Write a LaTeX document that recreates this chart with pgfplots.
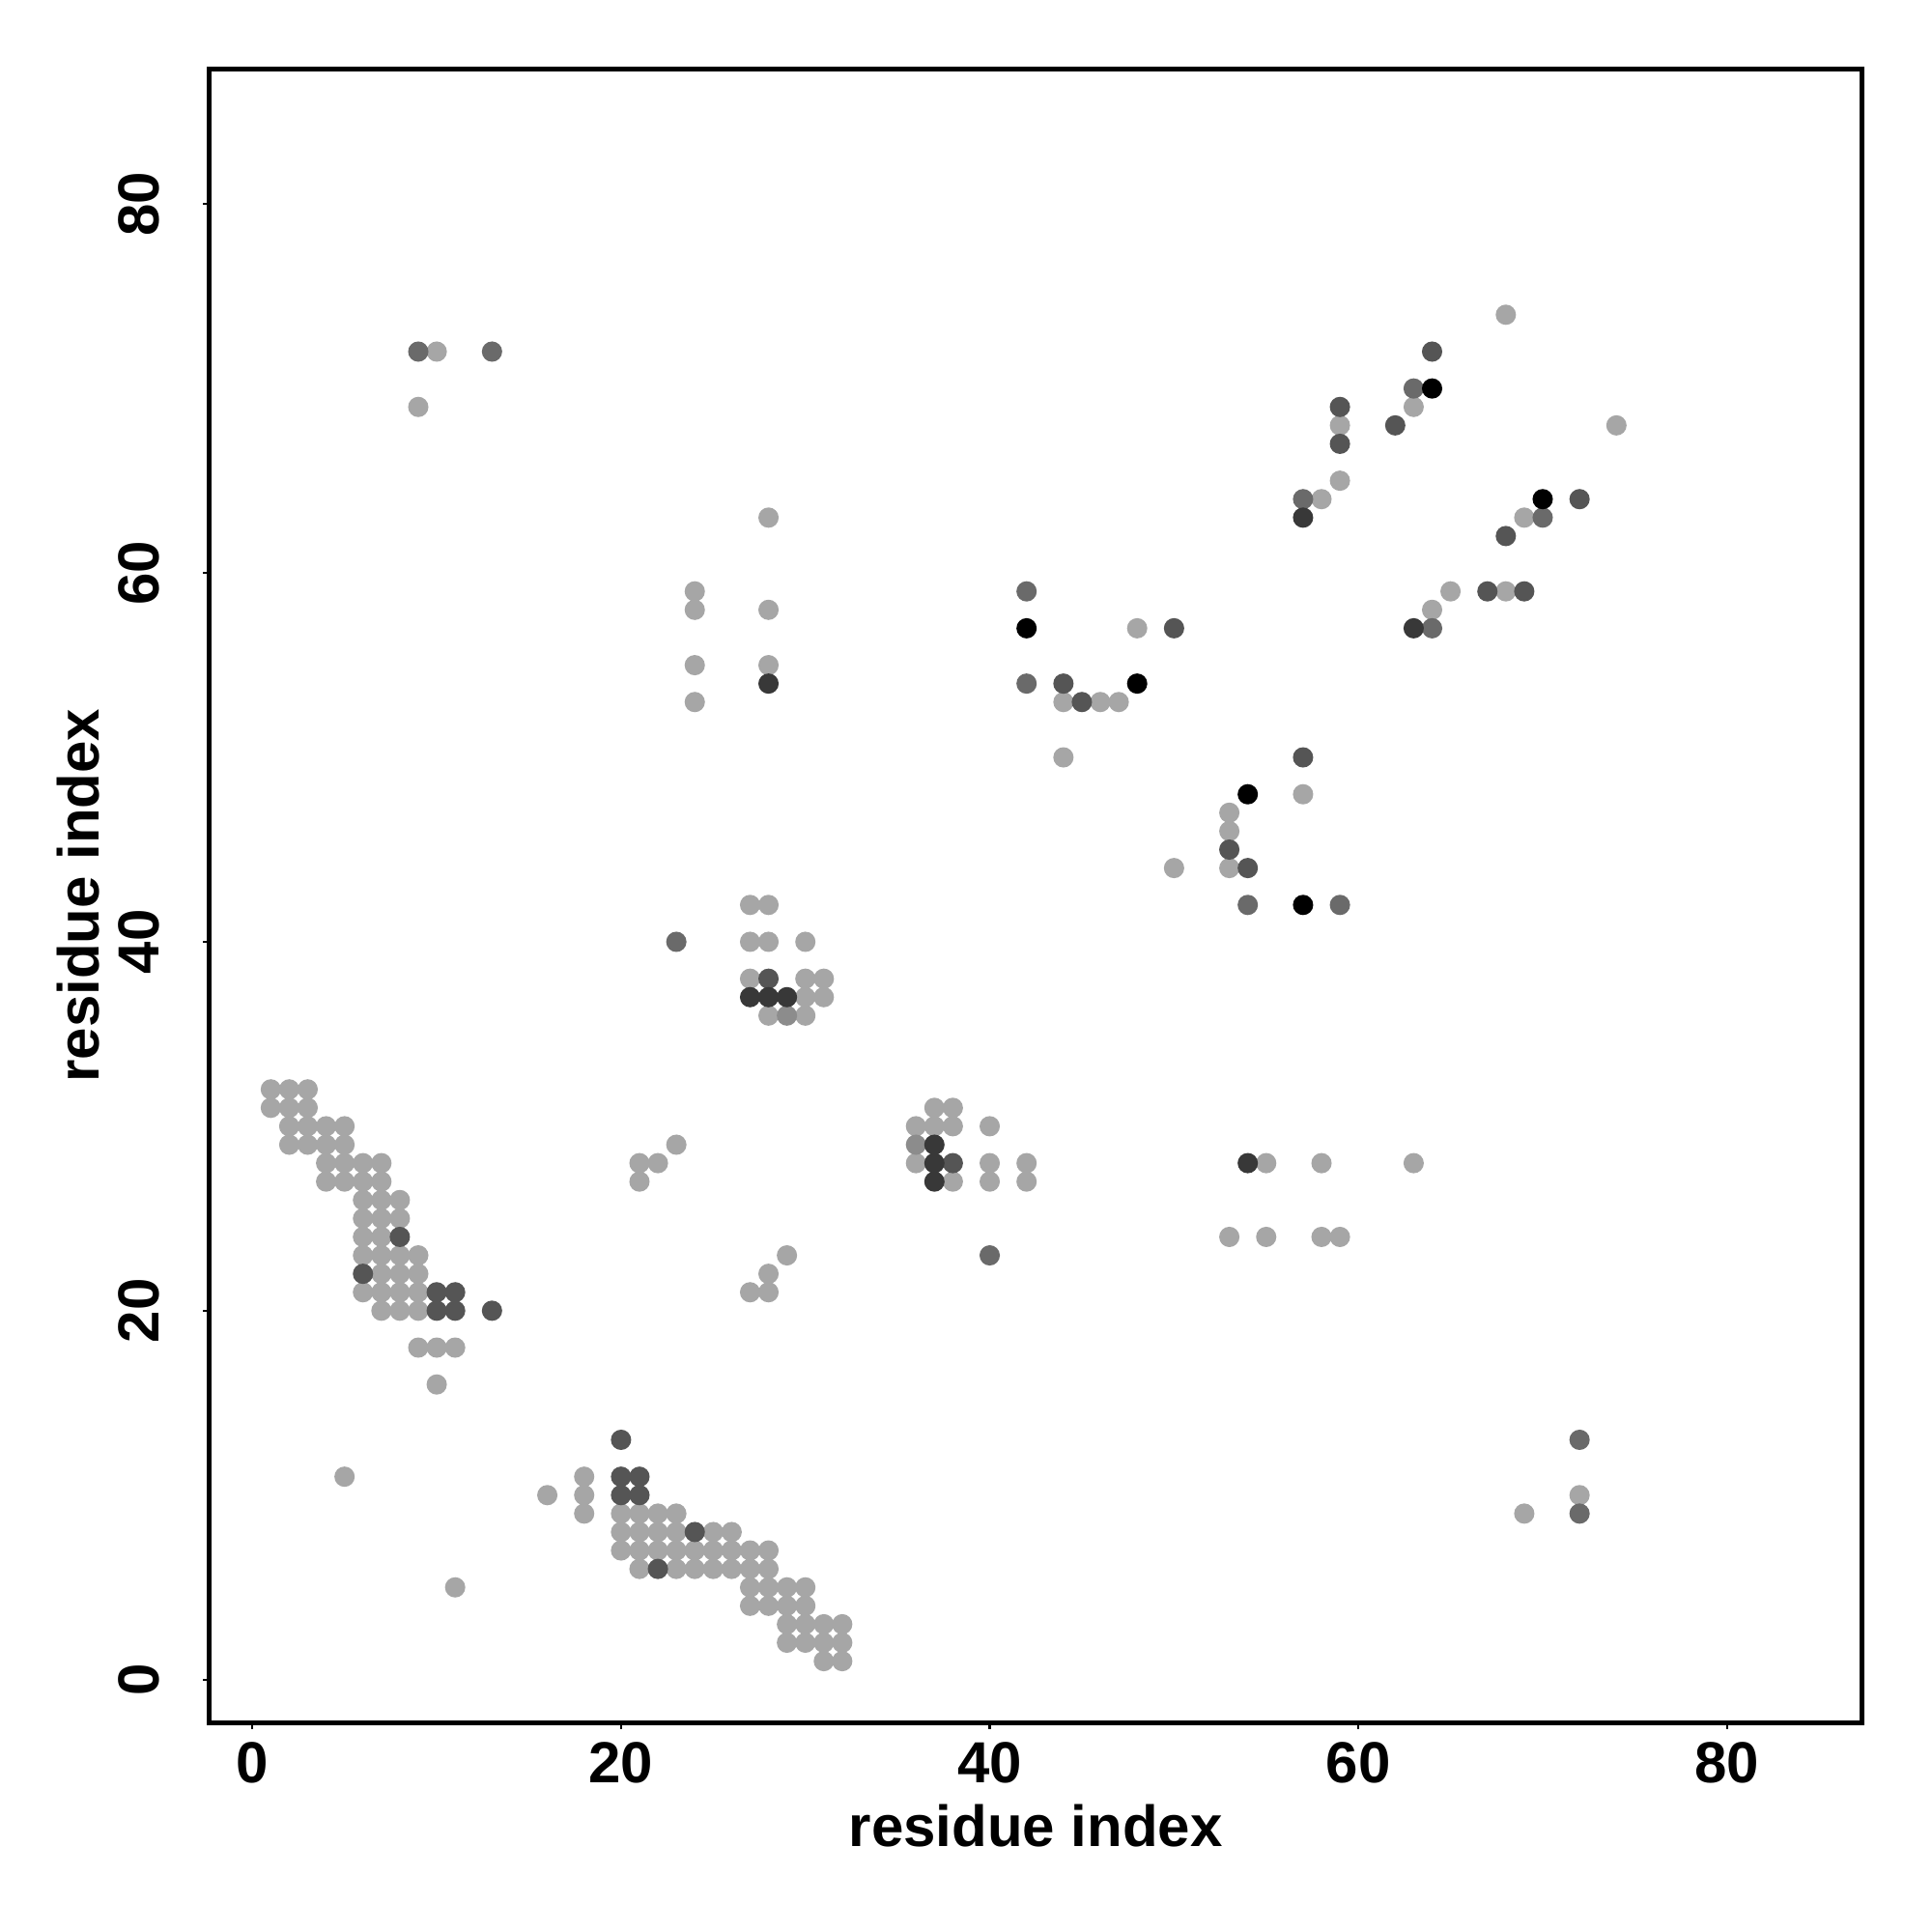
\documentclass[border=0pt]{standalone}
\usepackage{fontspec}
\setmainfont{Liberation Sans}
\usepackage{pgfplots}
\pgfplotsset{compat=1.18}
\definecolor{cL}{HTML}{A6A6A6}
\definecolor{cM}{HTML}{8C8C8C}
\definecolor{cD}{HTML}{6A6A6A}
\definecolor{cE}{HTML}{555555}
\definecolor{cF}{HTML}{383838}
\definecolor{cK}{HTML}{000000}
\begin{document}
\begin{tikzpicture}
\useasboundingbox (0,0) rectangle (400pt,400pt);
\begin{axis}[
  at={(43.4pt,43.4pt)}, anchor=south west,
  width=342.1pt, height=342.3pt, scale only axis,
  xmin=-2.32, xmax=87.32, ymin=-2.32, ymax=87.32,
  axis line style={line width=1pt},
  xtick={0,20,40,60,80}, ytick={0,20,40,60,80},
  tick align=outside, xtick pos=bottom, ytick pos=left,
  major tick length=1.3pt,
  tick style={line width=0.45pt, black},
  /pgf/number format/assume math mode=true,
  ticklabel style={font=\fontsize{12}{14}\selectfont\bfseries},
  xticklabel style={anchor=north, inner sep=0pt, yshift=-2.7pt},
  yticklabel style={anchor=base, inner sep=0pt, xshift=-9.3pt, rotate=90},
  xlabel={residue index}, ylabel={residue index},
  label style={font=\fontsize{12}{14}\selectfont\bfseries},
  xlabel style={at={(axis description cs:0.5,-0.0751)}, anchor=base, inner sep=0pt},
  ylabel style={at={(axis description cs:-0.0672,0.5)}, anchor=base, inner sep=0pt},
  every axis plot/.append style={only marks, mark=*, mark size=1.9pt},
]
% light
\addplot[cL] coordinates {
(1,32)(2,32)(3,32)(1,31)(2,31)(3,31)
(2,30)(3,30)(4,30)(5,30)(2,29)(3,29)(4,29)(5,29)
(4,28)(5,28)(6,28)(7,28)(4,27)(5,27)(6,27)(7,27)
(6,26)(7,26)(8,26)(6,25)(7,25)(8,25)(6,24)(7,24)
(6,23)(7,23)(8,23)(9,23)(7,22)(8,22)(9,22)
(6,21)(7,21)(8,21)(9,21)(7,20)(8,20)(9,20)
(9,18)(10,18)(11,18)(10,16)(5,11)(11,5)
(18,11)(16,10)(18,10)(18,9)
(20,9)(21,9)(22,9)(23,9)
(20,8)(21,8)(22,8)(23,8)(25,8)(26,8)
(20,7)(21,7)(22,7)(23,7)(24,7)(25,7)(26,7)(27,7)(28,7)
(21,6)(23,6)(24,6)(25,6)(26,6)(27,6)(28,6)
(27,5)(28,5)(29,5)(30,5)(27,4)(28,4)(29,4)(30,4)
(29,3)(30,3)(31,3)(32,3)(29,2)(30,2)(31,2)(32,2)
(31,1)(32,1)
(27,42)(28,42)(27,40)(28,40)(30,40)(27,38)(30,38)(31,38)(30,37)(31,37)(28,36)(30,36)
(23,29)(21,28)(22,28)(21,27)(29,23)(28,22)(27,21)(28,21)
(37,31)(38,31)(36,30)(37,30)(38,30)(40,30)(36,28)(40,28)(42,28)(38,27)(40,27)(42,27)
(10,72)(9,69)(28,63)(24,59)(24,58)(28,58)(24,55)(28,55)(24,53)
(68,74)(63,69)(59,68)(74,68)(59,65)(58,64)(69,63)(65,59)(68,59)(64,58)
(48,57)(44,53)(46,53)(47,53)(44,50)(57,48)(53,47)(53,46)(53,44)(50,44)
(55,28)(58,28)(63,28)(53,24)(55,24)(58,24)(59,24)(72,10)(69,9)
};
% medium
\addplot[cM] coordinates {(29,36)(36,29)};
% dark
\addplot[cD] coordinates {
(9,72)(13,72)(23,40)(40,23)(63,70)(57,64)(70,63)(64,57)
(42,59)(42,54)(54,42)(59,42)(72,13)(72,9)
};
% darker
\addplot[cE] coordinates {
(8,24)(6,22)(10,21)(11,21)(10,20)(11,20)(13,20)
(20,13)(20,11)(21,11)(20,10)(21,10)(24,8)(22,6)
(28,38)(38,28)(64,72)(59,69)(62,68)(59,67)(72,64)(68,62)(67,59)(69,59)
(50,57)(44,54)(45,53)(57,50)(53,45)(54,44)
};
% darkest
\addplot[cF] coordinates {
(27,37)(28,37)(29,37)(37,29)(37,28)(37,27)(57,63)(63,57)(28,54)(54,28)
};
% black
\addplot[cK] coordinates {
(64,70)(70,64)(42,57)(57,42)(48,54)(54,48)
};
\end{axis}
\end{tikzpicture}
\end{document}
